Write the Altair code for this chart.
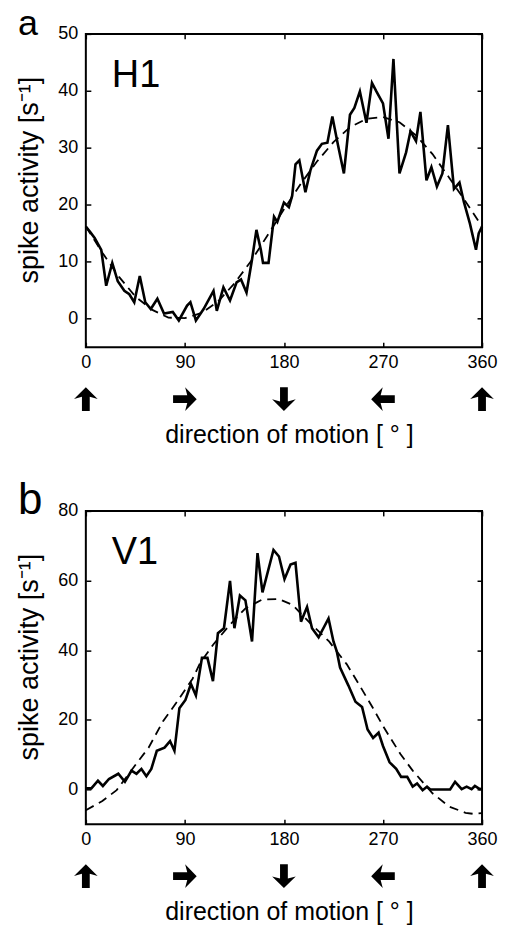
import altair as alt
import pandas as pd

# ---------------- data ----------------
# Panel a: H1 neuron
h1_angle = [0, 4, 8, 14, 18.5, 24, 29, 35, 39.5, 44, 49, 54, 59, 65, 71, 79, 84.5, 92, 95, 100,
            107, 116, 119, 125, 131, 137, 141, 146, 151, 155, 159, 161, 166, 171, 174, 180, 184.5,
            187.5, 190.5, 194, 199.5, 204, 210, 214.5, 219.5, 224, 229, 234.5, 240, 244, 249, 255,
            260, 264, 270, 275, 279.5, 285, 291, 295, 300, 304, 309.5, 314, 319, 324, 329, 334.5,
            339.5, 343.5, 349, 354.5, 357, 360]
h1_rate = [16.2, 15.2, 14.2, 12.1, 5.8, 9.8, 6.6, 4.9, 4.3, 2.9, 7.5, 2.9, 1.7, 3.5, 0.9, 1.2, -0.3,
           2.3, 2.9, -0.3, 1.7, 4.9, 1.4, 5.5, 3.2, 6.4, 6.9, 4.6, 10.4, 15.6, 12.1, 9.8, 9.8, 17.9,
           17.0, 20.4, 19.6, 21.6, 27.1, 27.8, 22.2, 26.0, 29.5, 30.7, 30.9, 35.5, 30.6, 25.5, 35.8,
           37.0, 39.9, 34.4, 41.4, 39.9, 37.8, 31.6, 45.6, 25.5, 29.2, 32.9, 31.2, 36.3, 24.3, 26.6,
           23.2, 25.5, 34.0, 22.8, 23.9, 20.5, 16.7, 12.1, 15.0, 16.2]
h1_fit_angle = [0, 15, 30, 45, 60, 75, 90, 105, 120, 135, 150, 165, 180, 195, 210, 225, 240, 255,
                270, 285, 300, 315, 330, 345, 360]
h1_fit_rate = [16.2, 11.6, 7.4, 3.9, 1.6, 0.2, 0.1, 1.0, 3.0, 6.2, 10.1, 14.6, 19.2, 23.6, 27.6,
               31.0, 33.6, 35.1, 35.4, 34.5, 32.2, 28.9, 24.8, 20.6, 16.2]

# Panel b: V1 neuron
v1_angle = [0, 5, 11, 15.5, 21, 29.5, 35.5, 41.5, 46, 50.5, 55, 59.5, 64.5, 71.5, 76.5, 80.5, 85,
            90.5, 95.5, 100, 105.5, 110.5, 115.5, 120, 125.5, 131, 135, 140, 145, 151, 156, 160.5,
            170.5, 175.5, 180.5, 186, 190.5, 195.5, 201, 205.5, 211.5, 220.5, 225, 228, 231, 238.5,
            245, 251, 256, 261, 266, 270, 276, 282, 286.5, 292, 297, 301, 306, 310, 313, 331,
            335.5, 341.5, 346, 350.5, 353.5, 358, 360]
v1_rate = [0.3, 0.3, 2.5, 1.0, 3.0, 4.5, 2.2, 5.4, 4.5, 5.9, 3.8, 5.9, 11.1, 12.0, 13.9, 11.1, 23.3,
           25.7, 30.3, 27.0, 37.8, 37.8, 31.1, 44.9, 46.3, 59.9, 46.3, 55.7, 54.3, 42.5, 67.9, 56.6,
           68.8, 66.9, 60.4, 64.6, 65.1, 48.2, 52.4, 46.3, 43.7, 49.1, 42.5, 39.7, 35.0, 29.9, 25.2,
           23.7, 17.2, 14.8, 16.3, 12.5, 7.8, 5.9, 3.6, 3.6, 0.8, 1.7, -0.2, 0.8, 0.0, 0.0, 2.2, 0.1,
           0.8, 0.1, 1.0, 0.1, 0.2]
v1_fit_angle = [0, 15, 28, 45, 57, 70, 82, 97, 104, 116, 130, 145, 160, 175, 188, 204, 221, 237,
                247, 261, 271, 286, 297, 315, 330, 345, 352, 360]
v1_fit_rate = [-6.0, -3.3, -0.2, 7.0, 12.0, 19.5, 24.8, 31.8, 36.4, 41.7, 47.0, 52.0, 54.5, 54.7,
               53.0, 47.7, 42.5, 36.0, 30.8, 23.3, 17.7, 10.1, 5.4, -1.1, -4.9, -6.7, -7.0, -6.8]

tick_angles = [0, 90, 180, 270, 360]
arrow_rotation = [0, 90, 180, 270, 0]   # up, right, down, left, up

h1_ticks = [0, 10, 20, 30, 40, 50]
v1_ticks = [0, 20, 40, 60, 80]

FONT = "Liberation Sans"
ARROW = "M0,-1 L1,-0.02 L0.33,-0.2 L0.33,1 L-0.33,1 L-0.33,-0.2 L-1,-0.02 Z"
W, H = 397, 314


def panel(angles, rates, fit_a, fit_r, ydom, yticks, name, letter, letter_size, letter_y):
    data = pd.DataFrame({"angle": angles, "rate": rates})
    fit = pd.DataFrame({"angle": fit_a, "rate": fit_r})
    arrows = pd.DataFrame({"angle": tick_angles, "rot": arrow_rotation})
    xs = alt.Scale(domain=[0, 360], nice=False, zero=False)
    ys = alt.Scale(domain=ydom, nice=False, zero=False)
    common = dict(domain=False, grid=False, ticks=True, tickColor="black", tickSize=5,
                  tickWidth=1.5, offset=-5, labelFont=FONT, labelFontSize=18,
                  labelColor="black", titleFont=FONT, titleColor="black",
                  titleFontWeight="normal")
    solid = alt.Chart(data).mark_line(color="black", strokeWidth=2.6, strokeJoin="miter").encode(
        x=alt.X("angle:Q", scale=xs, axis=alt.Axis(
            orient="bottom", values=tick_angles, labelPadding=6, labelFlush=False,
            title="direction of motion [ ° ]", titleFontSize=25, titlePadding=51,
            titleX=W / 2 + 5, **common)),
        y=alt.Y("rate:Q", scale=ys, axis=alt.Axis(
            orient="left", values=yticks, labelPadding=8, title="spike activity [s⁻¹]",
            titleFontSize=27, titlePadding=14, titleY=146, **common)),
        order="angle:Q",
    )
    dashed = alt.Chart(fit).mark_line(color="black", strokeWidth=1.8, strokeDash=[9, 6]).encode(
        x=alt.X("angle:Q", scale=xs, axis=alt.Axis(
            orient="top", values=tick_angles, labels=False, title=None, **common)),
        y=alt.Y("rate:Q", scale=ys, axis=alt.Axis(
            orient="right", values=yticks, labels=False, title=None, **common)),
        order="angle:Q",
    )
    arrow_marks = alt.Chart(arrows).mark_point(
        shape=ARROW, filled=True, color="black", opacity=1, size=560, clip=False,
        strokeWidth=0).encode(
        x=alt.X("angle:Q", scale=xs, axis=None),
        y=alt.value(H + 52),
        angle=alt.Angle("rot:Q", scale=None),
    )
    name_mark = alt.Chart(pd.DataFrame({"t": [name]})).mark_text(
        font=FONT, fontSize=38, align="left", baseline="alphabetic", color="black").encode(
        x=alt.value(26), y=alt.value(53), text="t:N")
    letter_mark = alt.Chart(pd.DataFrame({"t": [letter]})).mark_text(
        font=FONT, fontSize=letter_size, align="left", baseline="alphabetic",
        color="black").encode(
        x=alt.value(-68), y=alt.value(letter_y), text="t:N")
    return alt.layer(solid, dashed, arrow_marks, name_mark, letter_mark).resolve_axis(
        x="independent", y="independent").properties(width=W, height=H)


pa = panel(h1_angle, h1_rate, h1_fit_angle, h1_fit_rate, [-5, 50], h1_ticks, "H1", "a", 36, 1)
pb = panel(v1_angle, v1_rate, v1_fit_angle, v1_fit_rate, [-10, 80], v1_ticks, "V1", "b", 44, 3)

chart = alt.vconcat(pa, pb, spacing=30).properties(
    padding={"left": 6, "top": -4, "right": -1, "bottom": -1},
    background="white",
).configure_view(stroke="black", strokeWidth=2)

chart.save("out.html", embed_options={"renderer": "svg", "actions": False})
